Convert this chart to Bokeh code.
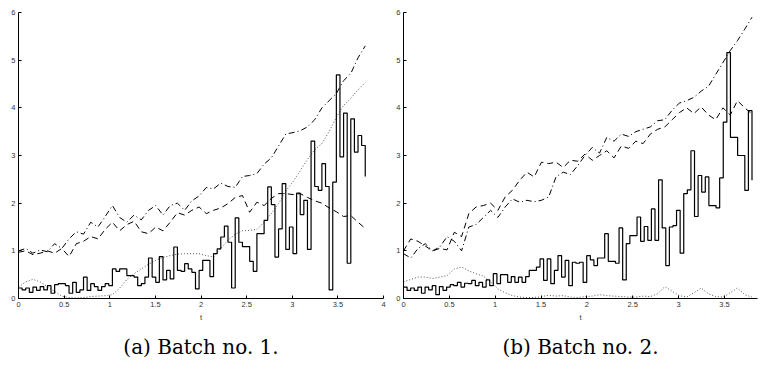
from bokeh.plotting import figure
from bokeh.layouts import row
from bokeh.models import FixedTicker, Title, Range1d
from bokeh.embed import file_html
from bokeh.resources import INLINE
import numpy as np

# ---------------- data: panel (a) ----------------
a_step = [0.22, 0.18, 0.22, 0.13, 0.24, 0.17, 0.25, 0.18, 0.27, 0.11,
          0.29, 0.31, 0.31, 0.27, 0.11, 0.34, 0.13, 0.18, 0.45, 0.17,
          0.31, 0.25, 0.17, 0.25, 0.31, 0.27, 0.62, 0.57, 0.62, 0.62,
          0.48, 0.48, 0.45, 0.27, 0.31, 0.45, 0.85, 0.45, 0.34, 0.88,
          0.39, 0.59, 0.41, 1.08, 0.59, 0.57, 0.73, 0.62, 0.55, 0.2,
          0.59, 0.8, 0.8, 0.46, 0.94, 1.04, 1.29, 1.52, 1.18, 0.22,
          1.69, 1.18, 1.09, 1.09, 0.78, 0.57, 1.36, 1.36, 1.64, 2.34,
          1.97, 0.87, 1.46, 2.41, 1.03, 1.5, 0.94, 2.21, 1.76, 2.06,
          1.03, 3.3, 2.35, 2.27, 2.83, 2.35, 0.18, 2.44, 4.69, 2.97,
          3.89, 0.74, 3.77, 3.07, 3.42, 3.21, 2.56]
a_dashdot = [1.0, 1.05, 0.95, 1.02, 0.98, 1.15, 1.05, 1.25, 1.4, 1.35,
             1.6, 1.5, 1.72, 1.95, 1.7, 1.6, 1.75, 1.65, 1.85, 1.95,
             1.75, 1.95, 2.0, 1.85, 2.05, 2.15, 2.33, 2.3, 2.42, 2.35,
             2.33, 2.56, 2.58, 2.62, 2.82, 2.95, 3.2, 3.45, 3.48, 3.52,
             3.6, 3.75, 4.0, 4.15, 4.3, 4.57, 4.72, 5.05, 5.3]
a_dashed = [0.97, 1.0, 0.92, 0.95, 1.0, 0.95, 1.05, 0.88, 1.15, 1.2,
            1.3, 1.25, 1.45, 1.6, 1.42, 1.55, 1.62, 1.4, 1.36, 1.5,
            1.42, 1.6, 1.8, 1.75, 1.85, 1.92, 1.78, 1.85, 1.9, 1.99,
            2.12, 2.16, 1.81, 2.02, 1.95, 2.1, 2.2, 2.2, 2.18, 2.2,
            2.12, 2.05, 2.0, 1.9, 1.82, 1.72, 1.74, 1.6, 1.47]
a_dotted = [0.24, 0.35, 0.4, 0.35, 0.25, 0.15, 0.05, 0.02, 0.01, 0.02,
            0.04, 0.05, 0.06, 0.08, 0.22, 0.4, 0.52, 0.62, 0.72, 0.8,
            0.86, 0.9, 0.93, 0.94, 0.94, 0.94, 0.9, 0.87, 1.05, 1.22,
            1.35, 1.42, 1.43, 1.45, 1.6, 1.78, 1.99, 2.25, 2.45, 2.68,
            2.92, 3.12, 3.25, 3.5, 3.8, 4.05, 4.2, 4.38, 4.53]

# ---------------- data: panel (b) ----------------
b_step = [0.24, 0.17, 0.22, 0.17, 0.24, 0.11, 0.24, 0.18, 0.27, 0.08,
          0.25, 0.17, 0.24, 0.29, 0.27, 0.34, 0.24, 0.32, 0.31, 0.38,
          0.27, 0.34, 0.24, 0.39, 0.27, 0.52, 0.31, 0.5, 0.5, 0.34,
          0.46, 0.34, 0.45, 0.34, 0.46, 0.59, 0.59, 0.66, 0.83, 0.38,
          0.83, 0.31, 0.59, 0.9, 0.45, 0.8, 0.27, 0.76,
          0.74, 0.76, 0.34, 0.9, 0.81, 0.69, 0.85, 0.85, 1.36, 0.78,
          0.78, 0.74, 1.48, 0.39, 1.15, 1.32, 1.32, 1.71, 1.2, 1.51,
          1.22, 1.88, 1.22, 2.49, 1.48, 0.69, 1.5, 1.53, 1.85, 0.95,
          2.2, 2.28, 3.1, 1.72, 2.58, 2.23, 2.55, 1.95, 1.95, 1.9,
          2.53, 3.7, 5.16, 3.38, 3.38, 3.0, 3.0, 2.27, 3.94, 2.48]
b_dashdot = [0.94, 0.85, 1.05, 1.15, 1.0, 1.08, 1.3, 1.2, 1.0, 1.5,
             1.55, 1.7, 1.85, 1.7, 1.92, 2.09, 2.02, 2.06, 2.03, 2.06,
             2.13, 2.55, 2.65, 2.6, 2.79, 3.0, 3.17, 3.05, 3.38, 3.3,
             3.45, 3.4, 3.5, 3.55, 3.6, 3.73, 3.75, 3.95, 4.1, 4.15,
             4.22, 4.35, 4.45, 4.7, 4.95, 5.2, 5.41, 5.65, 5.9]
b_dashed = [1.0, 1.25, 1.2, 1.1, 1.0, 1.05, 1.02, 1.39, 1.3, 1.78,
            1.92, 1.95, 2.0, 1.85, 2.13, 2.27, 2.48, 2.65, 2.55, 2.86,
            2.83, 2.86, 2.75, 2.9, 2.88, 3.03, 2.9, 3.0, 3.1, 2.95,
            3.2, 3.15, 3.3, 3.25, 3.45, 3.55, 3.6, 3.75, 3.9, 4.0,
            3.88, 4.02, 3.85, 3.75, 4.0, 3.85, 4.15, 4.0, 3.87]
b_dotted = [0.35, 0.4, 0.45, 0.45, 0.42, 0.45, 0.48, 0.62, 0.66, 0.58,
            0.52, 0.47, 0.35, 0.2, 0.12, 0.06, 0.03, 0.02, 0.02, 0.04,
            0.07, 0.05, 0.06, 0.03, 0.02, 0.04, 0.05, 0.08, 0.06, 0.05,
            0.04, 0.03, 0.03, 0.05, 0.04, 0.1, 0.25, 0.15, 0.06, 0.03,
            0.12, 0.22, 0.1, 0.04, 0.03, 0.12, 0.22, 0.08, 0.03]

t_end = 3.8
y_ticks = [0, 1, 2, 3, 4, 5, 6]
a_xticks = [0, 0.5, 1, 1.5, 2, 2.5, 3, 3.5, 4]
b_xticks = [0, 0.5, 1, 1.5, 2, 2.5, 3, 3.5]
a_xlabels = ["0", "0.5", "1", "1.5", "2", "2.5", "3", "3.5", "4"]
b_xlabels = ["0", "0.5", "1", "1.5", "2", "2.5", "3", "3.5"]
captions = ["(a) Batch no. 1.", "(b) Batch no. 2."]


def panel(step, dd, da, dot, xmax, xticks, xlabels, caption, w, bl, br):
    p = figure(width=w, height=388, x_range=Range1d(0, xmax), y_range=Range1d(0, 6),
               min_border_left=bl, min_border_right=br, min_border_top=12,
               min_border_bottom=90, toolbar_location=None, output_backend="svg")
    p.grid.visible = False
    p.outline_line_color = None
    p.background_fill_color = "white"
    p.border_fill_color = "white"

    ts = np.linspace(0, t_end, len(step))
    tl = np.linspace(0, t_end, len(dd))
    p.line(tl, dot, line_color="#555555", line_width=1, line_dash="1 2")
    p.line(tl, da, line_color="black", line_width=1, line_dash="6 4")
    p.line(tl, dd, line_color="black", line_width=1, line_dash="6 3 1 3")
    p.step(ts, step, mode="after", line_color="black", line_width=1.2)

    p.xaxis.ticker = FixedTicker(ticks=xticks)
    p.xaxis.major_label_overrides = {float(k): v for k, v in zip(xticks, xlabels)}
    p.yaxis.ticker = FixedTicker(ticks=y_ticks)
    for ax in (p.xaxis[0], p.yaxis[0]):
        ax.major_tick_in = 3
        ax.major_tick_out = 0
        ax.minor_tick_line_color = None
        ax.axis_line_color = "black"
        ax.major_tick_line_color = "black"
        ax.major_label_text_font = "Liberation Sans"
        ax.major_label_text_font_size = "7.5px"
        ax.major_label_text_color = "#333333"
        ax.major_label_standoff = 3
    p.xaxis.axis_label = "t"
    p.xaxis.axis_label_text_font = "Liberation Sans"
    p.xaxis.axis_label_text_font_size = "7.5px"
    p.xaxis.axis_label_text_font_style = "normal"
    p.xaxis.axis_label_text_color = "#333333"
    p.xaxis.axis_label_standoff = 3
    p.add_layout(Title(text=caption, align="center", text_font="DejaVu Serif",
                       text_font_size="20px", text_font_style="normal",
                       text_color="black", standoff=17), "below")
    return p


p1 = panel(a_step, a_dashdot, a_dashed, a_dotted, 4.0, a_xticks, a_xlabels,
           captions[0], 390, 18, 7)
p2 = panel(b_step, b_dashdot, b_dashed, b_dotted, 3.86, b_xticks, b_xlabels,
           captions[1], 372, 13, 5)
layout = row(p1, p2)
open("out.html", "w").write(file_html(layout, INLINE))
